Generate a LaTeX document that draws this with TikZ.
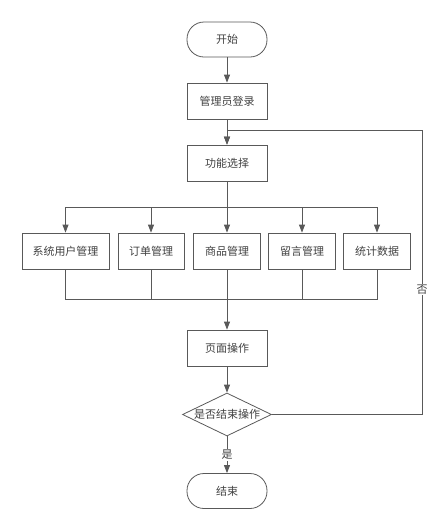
\documentclass[tikz,border=0pt]{standalone}
\usepackage{fontspec}
\newfontfamily\cjk{Noto Sans CJK SC}
\usetikzlibrary{arrows.meta}
\usetikzlibrary{shapes.geometric}

\begin{document}
\begin{tikzpicture}[x=1pt,y=1pt,>/.tip={Triangle[length=8pt,width=6pt]},
	color=black!65,line width=0.8pt,
	every node/.style={font=\cjk\fontsize{11}{13}\selectfont,text=black!75},
	term/.style={draw,shape=rectangle,rounded corners=17pt,minimum width=80pt,minimum height=35pt,inner sep=0pt},
	box/.style={draw,shape=rectangle,minimum width=#1,minimum height=36pt,inner sep=0pt},
	box/.default=80pt,
	cond/.style={draw,shape=diamond,aspect=2.07,minimum width=89pt,minimum height=43pt,inner sep=0pt},
	lbl/.style={fill=white,inner sep=1pt}]
	\useasboundingbox (0,0) rectangle (444,-531);
	\draw (227,-39.5) node (start) [term] {开始};
	\draw (227,-101) node (login) [box] {管理员登录};
	\draw (227,-163) node (choose) [box] {功能选择};
	\draw (65.5,-251) node (users) [box=87pt] {系统用户管理};
	\draw (151,-251) node (orders) [box=66pt] {订单管理};
	\draw (227,-251) node (goods) [box=67pt] {商品管理};
	\draw (302,-251) node (notes) [box=67pt] {留言管理};
	\draw (377,-251) node (stats) [box=67pt] {统计数据};
	\draw (227,-348) node (page) [box] {页面操作};
	\draw (227,-414.5) node (decide) [cond] {是否结束操作};
	\draw (227,-491) node (stop) [term] {结束};
	\coordinate (split) at (227,-207);
	\coordinate (join) at (227,-299);
	\coordinate (back) at (422,-130);
	
	\draw[->] (start) -- (login);
	\draw[->] (login) -- (choose);
	\draw (choose) -- (split);
	\draw[->] (split) -| (users);
	\draw[->] (split) -| (orders);
	\draw[->] (split) -- (goods);
	\draw[->] (split) -| (notes);
	\draw[->] (split) -| (stats);
	\draw (users) |- (join);
	\draw (orders) |- (join);
	\draw (notes) |- (join);
	\draw (stats) |- (join);
	\draw (goods) -- (join);
	\draw[->] (join) -- (page);
	\draw[->] (page) -- (decide);
	\draw[->] (decide) -- node [lbl] {是} (stop);
	\draw[->] (decide.east) -| node [lbl,pos=0.72] {否} (back) -- (choose.north |- back) -- (choose);
\end{tikzpicture}
\end{document}
